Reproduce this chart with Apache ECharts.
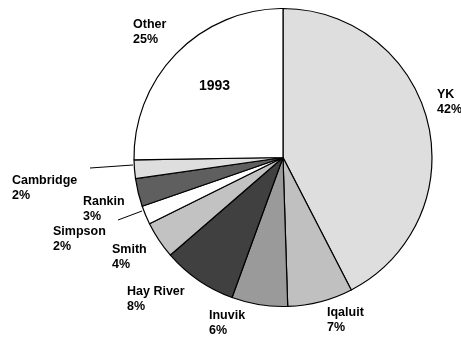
<!DOCTYPE html>
<html>
<head>
<meta charset="utf-8">
<script src="https://cdn.jsdelivr.net/npm/echarts@6/dist/echarts.min.js"></script>
<style>
  html, body { margin: 0; padding: 0; background: #fff; }
  #chart { width: 461px; height: 341px; }
</style>
</head>
<body>
<div id="chart"></div>
<script>
// Share by community, 1993 (percent)
const communities = ['YK', 'Iqaluit', 'Inuvik', 'Hay River', 'Smith', 'Simpson', 'Rankin', 'Cambridge', 'Other'];
const shares = [42, 7, 6, 8, 4, 2, 3, 2, 25];
const yearLabel = '1993';

// Slice fills, in the same order as the communities
const fills = ['#dedede', '#c0c0c0', '#9a9a9a', '#404040', '#c2c2c2', '#ffffff', '#5f5f5f', '#dedede', '#ffffff'];

// Where each label's top-left corner sits
const labelSpots = [
  [437, 87.5], [327, 305.5], [209, 308.5], [127, 284.5], [112, 242.5],
  [53, 224.5], [83, 194.5], [12, 173.5], [133, 17.5]
];
// Leader lines for the two thinnest labelled slices
const leaders = {
  5: [[142, 211], [118, 220]],
  7: [[133, 165], [90, 168]]
};

const chart = echarts.init(document.getElementById('chart'), null, { renderer: 'canvas' });

chart.setOption({
  animation: false,
  backgroundColor: '#ffffff',
  graphic: [{
    type: 'text',
    z: 100,
    x: 214.5,
    y: 86,
    style: {
      text: yearLabel,
      fill: '#000',
      font: 'bold 14px "Liberation Sans", Arial, sans-serif',
      align: 'center',
      verticalAlign: 'middle'
    }
  }],
  series: [{
    type: 'pie',
    center: [283, 157.5],
    radius: 149,
    startAngle: 90,
    clockwise: true,
    avoidLabelOverlap: false,
    data: communities.map((name, i) => ({
      name: name,
      value: shares[i],
      itemStyle: { color: fills[i] },
      labelLine: { show: leaders[i] !== undefined }
    })),
    itemStyle: { borderColor: '#000', borderWidth: 1.2 },
    emphasis: { disabled: true },
    label: {
      show: true,
      position: 'outside',
      formatter: '{b}\n{c}%',
      color: '#000',
      fontFamily: '"Liberation Sans", Arial, sans-serif',
      fontWeight: 'bold',
      fontSize: 12.5,
      lineHeight: 15,
      align: 'left'
    },
    labelLine: {
      show: false,
      lineStyle: { color: '#000', width: 1 }
    },
    labelLayout: function (params) {
      const spot = labelSpots[params.dataIndex];
      const out = {
        x: spot[0],
        y: spot[1],
        align: 'left',
        verticalAlign: 'top'
      };
      if (leaders[params.dataIndex]) {
        out.labelLinePoints = leaders[params.dataIndex];
      }
      return out;
    }
  }]
});
</script>
</body>
</html>
